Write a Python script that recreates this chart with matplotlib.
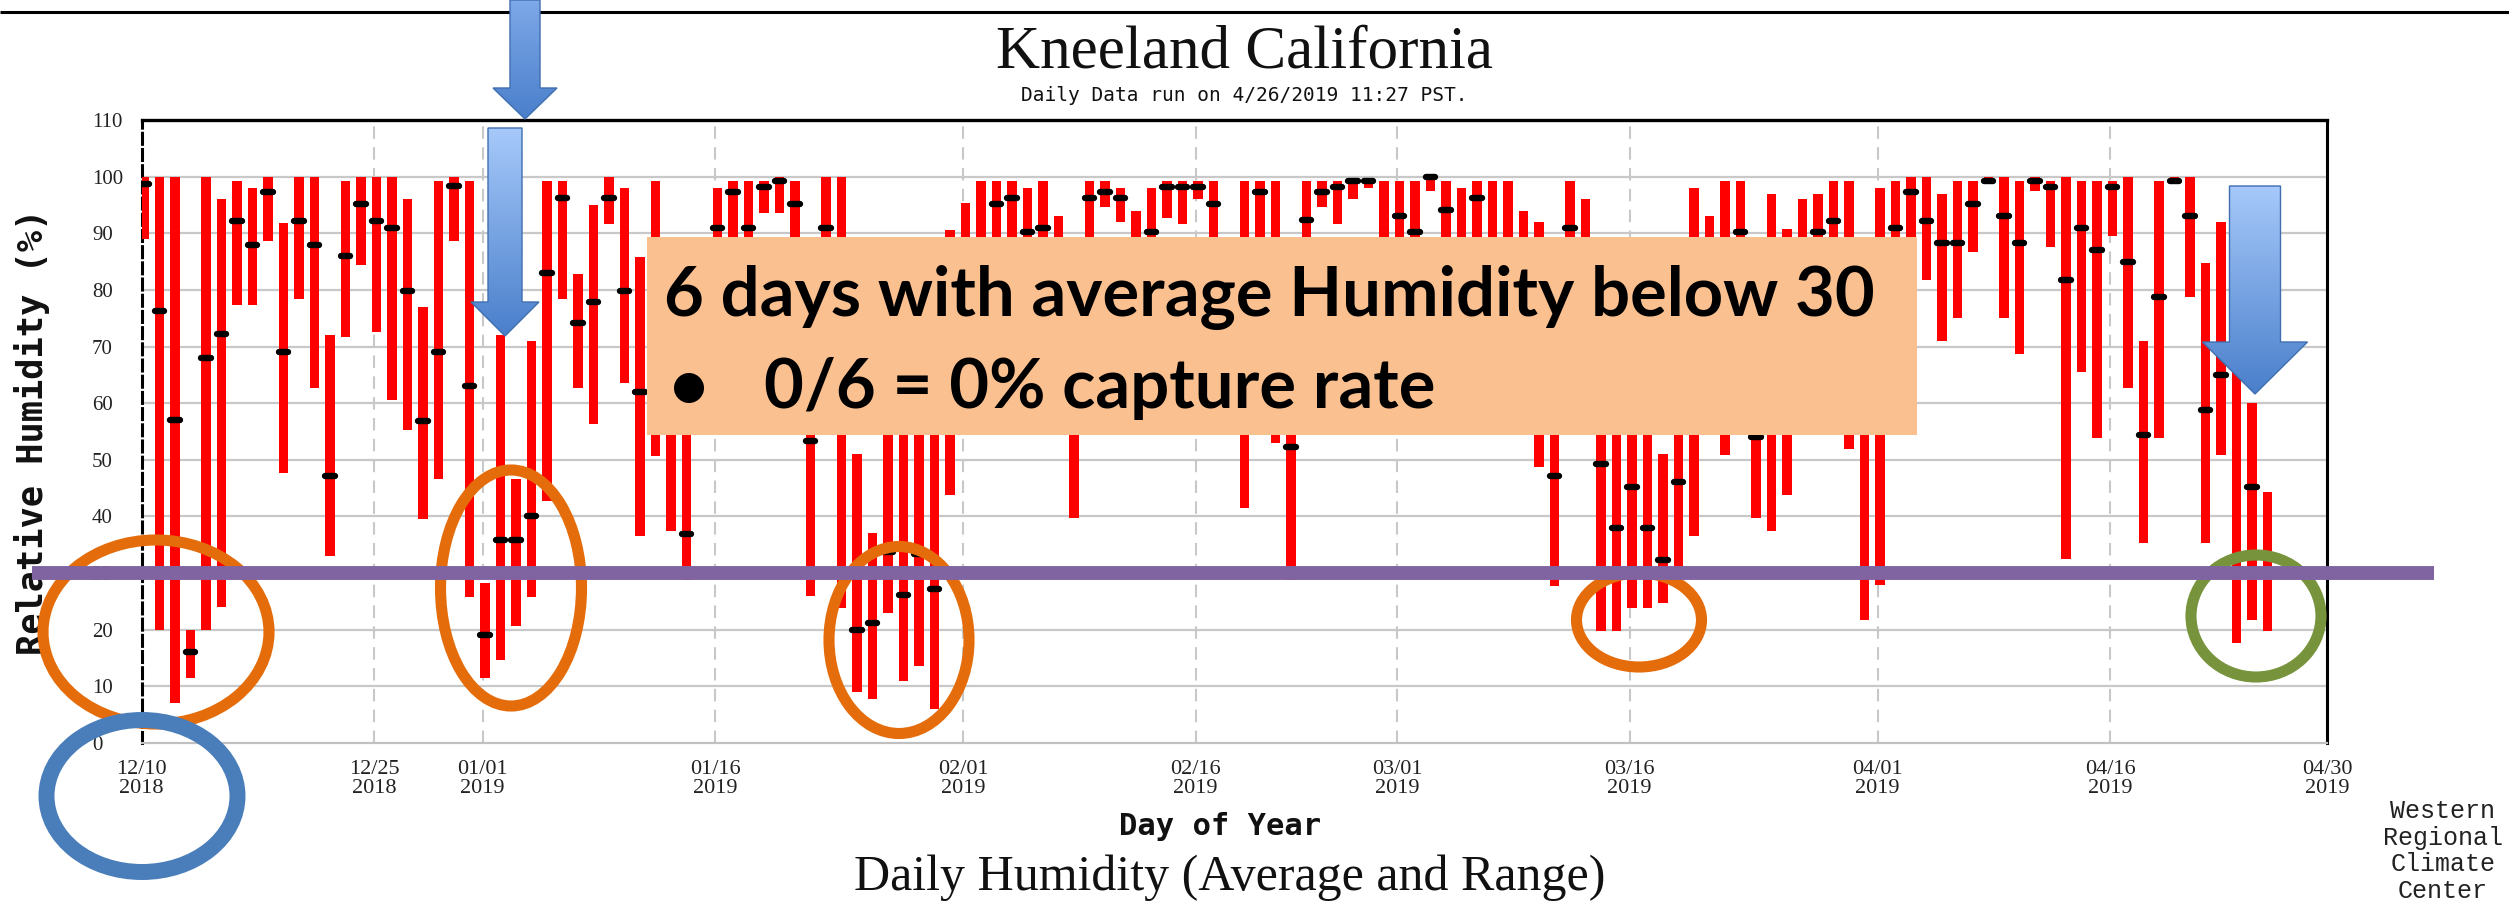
import numpy as np
import matplotlib
matplotlib.use("Agg")
import matplotlib.pyplot as plt
from matplotlib.patches import Polygon, Ellipse, Rectangle
from matplotlib.colors import LinearSegmentedColormap
import matplotlib.transforms as mtransforms

# ---------------- data (daily relative humidity, 12/10/2018 onward) ----------------
lows = [89, 20, 7, 11.5, 20, 24, 77.4, 77.4, 88.7, 47.7,
        78.4, 62.6, 33, 71.6, 84.4, 72.6, 60.5, 55.3, 39.5, 46.7,
        88.7, 25.7, 11.5, 14.6, 20.7, 25.7, 42.8, 78.4, 62.6, 56.3,
        91.6, 63.6, 36.6, 50.6, 37.5, 28.7, 60, 70, 80, 70,
        93.5, 93.5, 80, 25.9, 65, 23.8, 9, 7.8, 22.9, 10.9,
        13.6, 6, 43.7, 60, 65, 60, 70, 65, 70, 60,
        39.7, 55, 94.7, 92, 60, 60, 92.7, 91.6, 96, 70,
        60, 41.5, 70, 53, 28.7, 60, 94.7, 91.6, 96, 98,
        65, 70, 65, 97.4, 70, 60, 65, 60, 60, 55,
        48.7, 27.7, 70, 60, 19.8, 19.8, 23.9, 23.9, 24.7, 29,
        36.6, 65, 50.9, 65, 39.7, 37.5, 43.7, 60, 65, 60,
        51.9, 21.8, 27.9, 65, 80, 81.7, 71, 75, 86.7, 99,
        75, 68.6, 97.4, 87.6, 32.4, 65.5, 53.8, 89.5, 62.6, 35.4,
        53.8, 99, 78.7, 35.4, 50.8, 17.6, 21.8, 19.8]

highs = [100, 100, 100, 20, 100, 96, 99.2, 98, 100, 91.8,
         100, 100, 72, 99.2, 100, 100, 100, 96, 77, 99.2,
         100, 99.2, 28.2, 72, 46.7, 71, 99.2, 99.2, 82.8, 95,
         100, 98, 85.8, 99.2, 85, 80, 85, 98, 99.2, 99.2,
         99.2, 100, 99.2, 80, 100, 100, 51, 37, 62, 65,
         60, 62, 90.5, 95.4, 99.2, 99.2, 99.2, 98, 99.2, 93,
         80, 99.2, 99.2, 98, 94, 98, 99.2, 99.2, 99.2, 99.2,
         85, 99.2, 99.2, 99.2, 85, 99.2, 99.2, 99.2, 99.2, 99.2,
         99.2, 99.2, 99.2, 100, 99.2, 98, 99.2, 99.2, 99.2, 94,
         92, 75, 99.2, 96, 80, 75, 80, 70, 51, 70,
         98, 93, 99.2, 99.2, 80, 97, 90.8, 96, 97, 99.2,
         99.2, 75, 98, 99.2, 100, 100, 97, 99.2, 99.2, 100,
         100, 99.2, 100, 99.2, 100, 99.2, 99.2, 99.2, 100, 71,
         99.2, 100, 100, 84.7, 92, 66, 60, 44.4]

avgs = [98.7, 76.2, 57, 16, 68, 72.2, 92.1, 88, 97.2, 69.1,
        92.1, 88, 47.1, 86, 95.2, 92.1, 91, 79.8, 56.9, 69.1,
        98.3, 63, 19, 35.9, 35.9, 40, 82.9, 96.2, 74.2, 77.8,
        96.2, 79.8, 61.9, 75, 62, 36.9, 75, 91, 97.2, 91,
        98.2, 99.2, 95.2, 53.3, 91, 70, 19.9, 21.1, 33.7, 26.2,
        33.3, 27.2, 70, 85, 88, 95.2, 96.2, 90.2, 91, 84,
        60, 96.2, 97.3, 96.2, 85, 90.2, 98.2, 98.2, 98.2, 95.2,
        75, 75, 97.2, 85, 52.3, 92.3, 97.2, 98.2, 99.2, 99.2,
        86, 93.1, 90.2, 100, 94.1, 88, 96.2, 88, 85, 80,
        75, 47.1, 91, 85, 49.2, 37.9, 45.2, 37.9, 32.3, 46.1,
        70, 85, 80, 90.2, 54, 70, 70, 85, 90.2, 92.1,
        80, 58, 65, 91, 97.2, 92.1, 88.2, 88.2, 95.2, 99.2,
        93.1, 88.2, 99.2, 98.2, 81.8, 91, 87, 98.2, 84.9, 54.3,
        78.8, 99.2, 93.1, 58.8, 65, 30.5, 45.2, 30]

tick_days = [0, 15, 22, 37, 53, 68, 81, 96, 112, 127, 141]
tick_labels = ["12/10\n2018", "12/25\n2018", "01/01\n2019", "01/16\n2019",
               "02/01\n2019", "02/16\n2019", "03/01\n2019", "03/16\n2019",
               "04/01\n2019", "04/16\n2019", "04/30\n2019"]
y_ticks = list(range(0, 111, 10))
threshold = 30

# ---------------- figure ----------------
W, H = 2509, 915
fig = plt.figure(figsize=(W / 100, H / 100), dpi=100)
fig.patch.set_facecolor("white")
L, R, T, B = 141.5, 2327, 120, 743
ax = fig.add_axes([L / W, 1 - B / H, (R - L) / W, (B - T) / H])

days = np.arange(len(lows))
xs = days + 0.17
lo = np.array(lows)
hi = np.array(highs)
ax.bar(xs, hi - lo, bottom=lo, width=0.6, color="#ff0000", linewidth=0, zorder=3)
lc = ax.hlines(avgs, xs - 0.3, xs + 0.3, colors="black", linewidth=4.6, zorder=4)
lc.set_capstyle("round")

ax.set_xlim(0, 141)
ax.set_ylim(0, 110)
for v in y_ticks[1:-1]:
    ax.axhline(v, color="#c8c8c8", lw=1.6, zorder=1)
for d in tick_days[1:-1]:
    ax.axvline(d, color="#c8c8c8", lw=1.5, ls=(0, (6, 4)), zorder=1)

ax.set_xticks(tick_days)
ax.set_xticklabels(tick_labels, fontfamily="Liberation Serif", fontsize=16,
                   linespacing=1.0, color="#222222")
ax.set_yticks(y_ticks)
ax.set_yticklabels([str(v) for v in y_ticks], fontfamily="Liberation Serif",
                   fontsize=15, color="#222222")
ax.tick_params(axis="both", length=0)
ax.tick_params(axis="y", pad=35.6)
ax.tick_params(axis="x", pad=12)
for lab in ax.get_yticklabels():
    lab.set_horizontalalignment("left")

ax.spines["top"].set_color("black")
ax.spines["top"].set_linewidth(2.4)
ax.spines["right"].set_color("black")
ax.spines["right"].set_linewidth(2.2)
ax.spines["bottom"].set_color("#c0c0c0")
ax.spines["bottom"].set_linewidth(1.6)
ax.spines["left"].set_color("black")
ax.spines["left"].set_linewidth(2.2)
ax.spines["left"].set_linestyle((0, (3.6, 1.7)))

# ---------------- overlay (texts and slide annotations, pixel coords) ----------------
ov = fig.add_axes([0, 0, 1, 1], zorder=10)
ov.patch.set_alpha(0)
ov.axis("off")

ov.plot([0, W], [12, 12], color="black", lw=2.2, solid_capstyle="butt")

ov.text(1244, 68, "Kneeland California", fontfamily="Liberation Serif", fontsize=44,
        ha="center", va="baseline", color="#111111")
ov.text(1244, 101, "Daily Data run on 4/26/2019 11:27 PST.", fontfamily="DejaVu Sans Mono",
        fontsize=14, ha="center", va="baseline", color="#111111")
ov.text(32, 432, "Relative Humidity (%)", fontfamily="DejaVu Sans Mono", fontweight="bold",
        fontsize=25.5, rotation=90, ha="center", va="center", color="#111111")
ov.text(1220, 835, "Day of Year", fontfamily="DejaVu Sans Mono", fontweight="bold",
        fontsize=22, ha="center", va="baseline", color="#111111")
ov.text(1230, 890, "Daily Humidity (Average and Range)", fontfamily="Liberation Serif",
        fontsize=36, ha="center", va="baseline", color="#111111")
ov.text(2443, 851, "Western\nRegional\nClimate\nCenter", fontfamily="Liberation Mono",
        fontsize=18, ha="center", va="center", linespacing=1.15, color="#222222")

# text box
ov.add_patch(Rectangle((647, 237), 1270, 198, facecolor="#FAC090", edgecolor="none", zorder=2))
ov.text(664, 316, "6 days with average Humidity below 30", fontfamily="Lato",
        fontweight="bold", fontsize=49.5, ha="left", va="baseline", color="black", zorder=3)
ov.text(669, 408, "\u2022", fontfamily="Lato", fontweight="bold", fontsize=49.5,
        ha="left", va="baseline", color="black", zorder=3)
ov.text(764, 408, "0/6 = 0% capture rate", fontfamily="Lato", fontweight="bold",
        fontsize=49.5, ha="left", va="baseline", color="black", zorder=3)


def grad_arrow(cx, shaft_w, y0, y_head, y_tip, head_w, c_top, c_bot, z):
    verts = [(cx - shaft_w / 2, y0), (cx + shaft_w / 2, y0), (cx + shaft_w / 2, y_head),
             (cx + head_w / 2, y_head), (cx, y_tip), (cx - head_w / 2, y_head),
             (cx - shaft_w / 2, y_head)]
    poly = Polygon(verts, closed=True, facecolor="none", edgecolor="#3f6fb0",
                   lw=1.0, zorder=z + 1)
    ov.add_patch(poly)
    grad = np.linspace(0, 1, 256).reshape(-1, 1)
    cmap = LinearSegmentedColormap.from_list("g", [c_top, c_bot])
    im = ov.imshow(grad, cmap=cmap, extent=(cx - head_w / 2, cx + head_w / 2, y_tip, y0),
                   origin="upper", aspect="auto", zorder=z, interpolation="bilinear")
    im.set_clip_path(poly)


grad_arrow(525, 30, 0, 88, 119, 64, "#7ea8e8", "#4a7fcb", 4)
grad_arrow(505, 34, 128, 302, 336, 68, "#a6c9fa", "#4a7fcb", 4)
grad_arrow(2255, 51, 186, 342, 394, 105, "#a6c9fa", "#4a7fcb", 4)

# ellipses
ell_kw = dict(fill=False, zorder=5)
ov.add_patch(Ellipse((156, 632), 226, 184, edgecolor="#E46C0A", lw=8, **ell_kw))
ov.add_patch(Ellipse((511, 588), 141, 236, edgecolor="#E46C0A", lw=8, **ell_kw))
ov.add_patch(Ellipse((899, 640), 140, 187, edgecolor="#E46C0A", lw=8, **ell_kw))
ov.add_patch(Ellipse((1639, 620), 125, 94, edgecolor="#E46C0A", lw=8, **ell_kw))
ov.add_patch(Ellipse((2256, 616), 130, 122, edgecolor="#77933C", lw=8, **ell_kw))
ov.add_patch(Ellipse((142, 796), 191, 152, edgecolor="#4A7EBB", lw=11.5, **ell_kw))

# threshold line at 30 % (x in pixels, y in data units)
trans = mtransforms.blended_transform_factory(ov.transData, ax.transData)
ov.plot([32, 2434], [threshold, threshold], transform=trans, color="#8064A2",
        lw=10, solid_capstyle="butt", zorder=6)

ov.set_xlim(0, W)
ov.set_ylim(H, 0)

fig.savefig("out.png", dpi=100, facecolor="white")
